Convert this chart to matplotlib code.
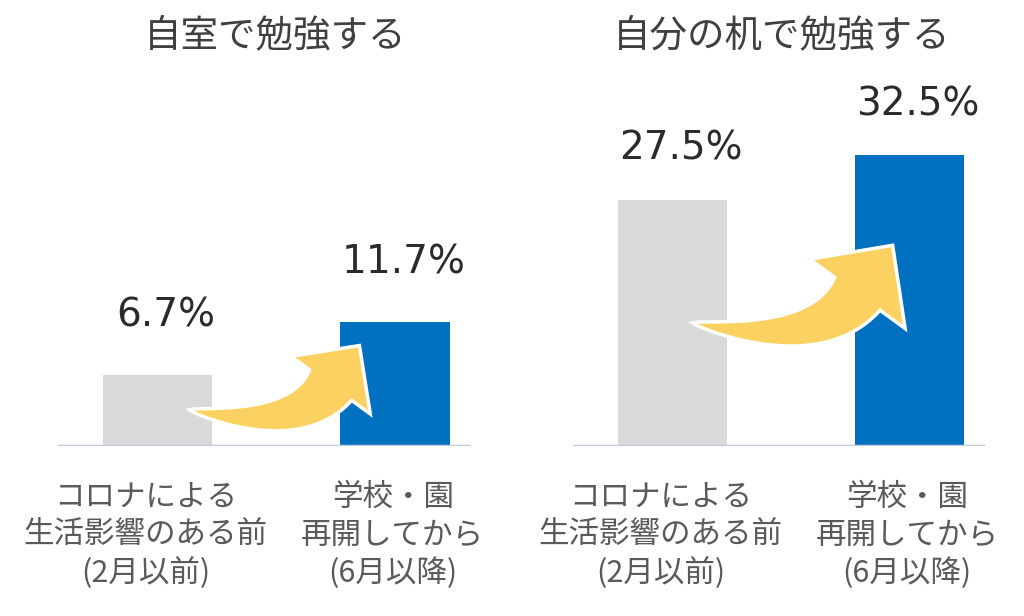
import numpy as np
import matplotlib.pyplot as plt
from matplotlib.patches import Polygon

plt.rcParams['font.family'] = ['Noto Sans CJK JP', 'DejaVu Sans']

# data
titles = ['自室で勉強する', '自分の机で勉強する']
categories = [['コロナによる', '生活影響のある前', '(2月以前)'],
              ['学校・園', '再開してから', '(6月以降)']]
before = [6.7, 27.5]   # %, before covid impact (Feb)
after = [11.7, 32.5]   # %, after schools reopened (June)

GRAY = '#D9D9D9'
BLUE = '#0070C0'
YELLOW = '#FBD262'
W, H = 1024, 616


def swoosh(ax, start, tip, shaft_w, head_w, head_l, ang0=-12, ang1=54):
    # tapered curved arrow, built in pixel space then mapped back to data
    tr = ax.transData
    s = tr.transform(start)
    t = tr.transform(tip)
    d1 = np.array([np.cos(np.radians(ang1)), np.sin(np.radians(ang1))])
    d0 = np.array([np.cos(np.radians(ang0)), np.sin(np.radians(ang0))])
    b = t - head_l * d1
    # control point: intersection of start ray and end ray
    A = np.column_stack([d0, d1])
    k = np.linalg.solve(A, b - s)
    c = s + k[0] * d0
    u = np.linspace(0, 1, 60)[:, None]
    pts = (1 - u) ** 2 * s + 2 * (1 - u) * u * c + u ** 2 * b
    tan = 2 * (1 - u) * (c - s) + 2 * u * (b - c)
    tan /= np.linalg.norm(tan, axis=1)[:, None]
    nrm = np.column_stack([-tan[:, 1], tan[:, 0]])
    w = shaft_w * u ** 0.7 / 2
    upper = pts + nrm * w
    lower = pts - nrm * w
    nh = np.array([-d1[1], d1[0]])
    head = [b + nh * head_w / 2, t, b - nh * head_w / 2]
    poly = np.vstack([upper, head, lower[::-1]])
    poly = tr.inverted().transform(poly)
    ax.add_patch(Polygon(poly, closed=True, fc=YELLOW, ec='white', lw=2.5,
                         zorder=5, clip_on=False, joinstyle='miter'))


fig = plt.figure(figsize=(W / 100, H / 100), dpi=100)

# pixel layout of each panel
ax_left = [58, 573]
ax_width = [413, 412]
px_per_pct = [10.6, 8.95]
label_gap = [29, 23]
title_x = [275, 782]
arrow_start = [(0.51, 0.135), (0.5, 0.087)]
arrow_tip = [(0.81, 0.85), (0.69, 0.93)]
arrow_size = [(52, 98, 49), (56, 118, 60)]

xpos = np.array([0, 1])
bw = 0.46

for i in range(2):
    ax = fig.add_axes([ax_left[i] / W, 170 / H, ax_width[i] / W, 330 / H])
    ax.set_xlim(-0.42, 1.32)
    ax.set_ylim(0, 330 / px_per_pct[i])
    ax.axis('off')
    vals = [before[i], after[i]]
    ax.bar(xpos, vals, width=bw, color=[GRAY, BLUE], zorder=2)
    ax.axhline(0, color='#C3C8DE', lw=2.5, zorder=3)

    for x, v in zip(xpos, vals):
        ax.annotate(f'{v}%', xy=(x, v), xytext=(6, label_gap[i]),
                    textcoords='offset points', ha='center', va='bottom',
                    fontsize=28, color='#2B2B2B', family='DejaVu Sans')

    for x, dx, lines in zip(xpos, [-0.05, -0.01], categories):
        for j, line in enumerate(lines):
            ax.annotate(line, xy=(x + dx, 0),
                        xytext=(0, -(51 + 38 * j) * 0.72),
                        textcoords='offset points', ha='center', va='center',
                        fontsize=22, color='#5A5A5A', annotation_clip=False)

    fig.text(title_x[i] / W, 1 - 36 / H, titles[i], ha='center', va='center',
             fontsize=27, color='#404040')

    fs, ft = arrow_start[i], arrow_tip[i]
    sw, hw, hl = arrow_size[i]
    swoosh(ax, (xpos[0] + fs[1], before[i] * fs[0]),
           (xpos[1] - 1 + ft[1], after[i] * ft[0]), sw, hw, hl)

fig.savefig('out.png', dpi=100, facecolor='white')
